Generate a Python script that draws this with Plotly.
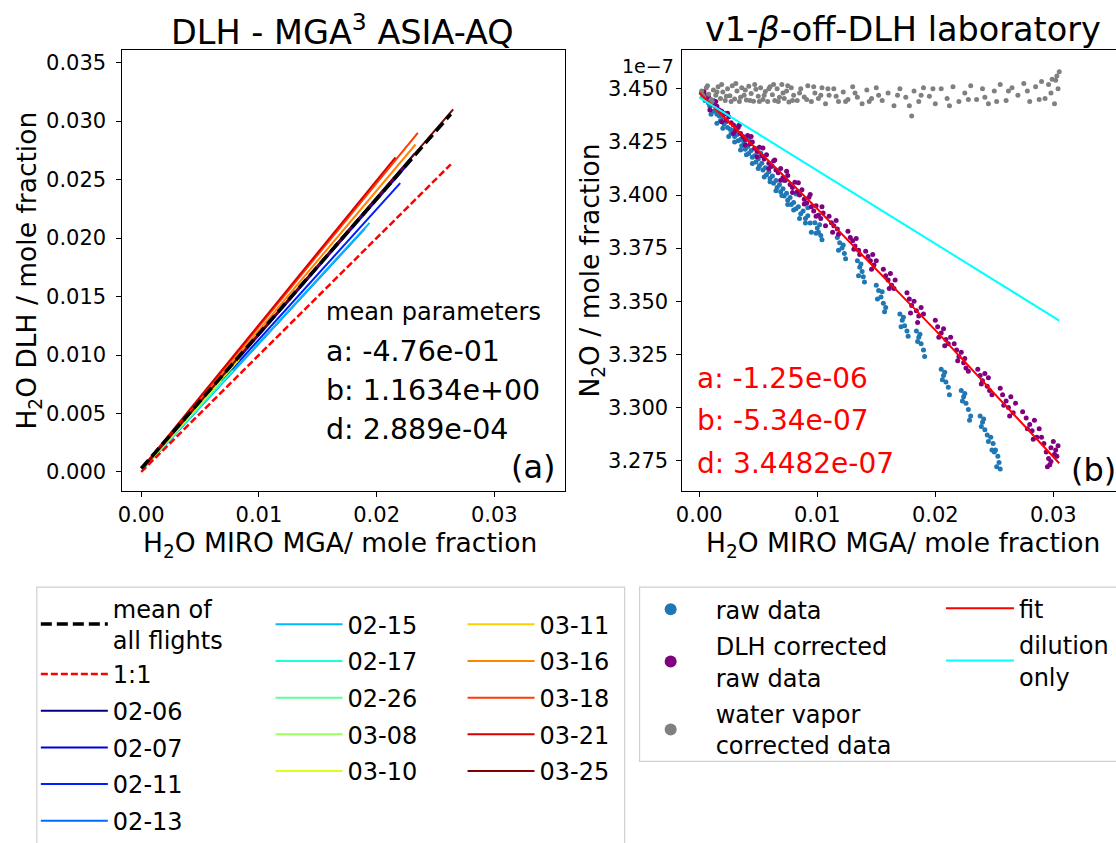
import plotly.graph_objects as go

W, H = 1116, 843
def px(x): return x / W
def py(y): return 1 - y / H

FONT = "DejaVu Sans"

# ---------------- left panel data ----------------
flights = ["02-06", "02-07", "02-11", "02-13", "02-15", "02-17", "02-26",
           "03-08", "03-10", "03-11", "03-16", "03-18", "03-21", "03-25"]
flight_colors = ["#000080", "#0000d9", "#001dff", "#006cff", "#00baff", "#1cffda", "#5cff9b",
                 "#9bff5c", "#daff1c", "#ffce00", "#ff8500", "#ff3c00", "#d90000", "#800000"]
flight_x_start = [0.0002, 0.0002, 0.0002, 0.0002, 0.0002, 0.0002, 0.0002,
                  0.0002, 0.0002, 0.0002, 0.0002, 0.0002, 0.0002, 0.0002]
flight_y_start = [0.0004, 0.0004, 0.0004, 0.0003, 0.0003, 0.0003, 0.0003,
                  0.0003, 0.0004, 0.0004, 0.0004, 0.0004, 0.0005, 0.0004]
flight_x_end = [0.0232, 0.0230, 0.0220, 0.0190, 0.0194, 0.0078, 0.0068,
                0.0062, 0.0083, 0.0086, 0.0233, 0.0235, 0.0216, 0.0265]
flight_y_end = [0.0272, 0.0267, 0.0247, 0.0208, 0.0213, 0.0087, 0.0078,
                0.0072, 0.0096, 0.0101, 0.0280, 0.0290, 0.0269, 0.0310]

mean_x = [0.0000, 0.0130, 0.0263]
mean_y = [0.0003, 0.0153, 0.0306]
one_x = [0.0000, 0.0263]
one_y = [0.0000, 0.0263]

# ---------------- right panel data (N2O in units of 1e-7 mole fraction) ----------------
raw_x = [0.0002, 0.0003, 0.0005, 0.0006, 0.0008, 0.0009, 0.0011, 0.0012, 0.0014, 0.0015,
         0.0017, 0.0018, 0.0020, 0.0021, 0.0023, 0.0024, 0.0026, 0.0027, 0.0029, 0.0030,
         0.0032, 0.0033, 0.0035, 0.0036, 0.0038, 0.0039, 0.0041, 0.0042, 0.0044, 0.0045,
         0.0047, 0.0048, 0.0050, 0.0051, 0.0053, 0.0054, 0.0056, 0.0057, 0.0059, 0.0060,
         0.0062, 0.0063, 0.0065, 0.0066, 0.0068, 0.0069, 0.0071, 0.0072, 0.0074, 0.0075,
         0.0077, 0.0078, 0.0080, 0.0082, 0.0084, 0.0086, 0.0088, 0.0090, 0.0092, 0.0094,
         0.0010, 0.0015, 0.0020, 0.0025, 0.0030, 0.0035, 0.0040, 0.0045, 0.0050, 0.0055,
         0.0060, 0.0065, 0.0070, 0.0075, 0.0080, 0.0085, 0.0090, 0.0095,
         0.0012, 0.0022, 0.0032, 0.0042, 0.0052, 0.0062, 0.0072, 0.0082, 0.0092,
         0.0098, 0.0100, 0.0101, 0.0103, 0.0102, 0.0099, 0.0104,
         0.0117, 0.0119, 0.0121, 0.0123, 0.0122, 0.0118, 0.0124,
         0.0134, 0.0136, 0.0138, 0.0139, 0.0137, 0.0135, 0.0140,
         0.0150, 0.0152, 0.0154, 0.0156, 0.0158, 0.0155, 0.0151, 0.0157,
         0.0170, 0.0172, 0.0174, 0.0176, 0.0173, 0.0171, 0.0177,
         0.0184, 0.0186, 0.0188, 0.0190, 0.0187, 0.0185, 0.0191,
         0.0205, 0.0207, 0.0209, 0.0211, 0.0208, 0.0206, 0.0212,
         0.0222, 0.0224, 0.0226, 0.0228, 0.0230, 0.0225, 0.0223, 0.0229,
         0.0238, 0.0240, 0.0242, 0.0244, 0.0241, 0.0239, 0.0245,
         0.0247, 0.0249, 0.0251, 0.0253, 0.0254, 0.0252, 0.0250, 0.0248, 0.0255]
raw_y = [3.4480, 3.4462, 3.4445, 3.4460, 3.4432, 3.4418, 3.4425, 3.4395, 3.4400, 3.4380,
         3.4372, 3.4350, 3.4365, 3.4335, 3.4345, 3.4318, 3.4310, 3.4290, 3.4305, 3.4275,
         3.4285, 3.4255, 3.4262, 3.4232, 3.4248, 3.4215, 3.4228, 3.4195, 3.4210, 3.4178,
         3.4185, 3.4155, 3.4170, 3.4138, 3.4150, 3.4118, 3.4128, 3.4095, 3.4110, 3.4078,
         3.4090, 3.4055, 3.4068, 3.4035, 3.4048, 3.4015, 3.4030, 3.3995, 3.4008, 3.3975,
         3.3988, 3.3955, 3.3965, 3.3935, 3.3945, 3.3912, 3.3925, 3.3890, 3.3902, 3.3868,
         3.4380, 3.4338, 3.4315, 3.4275, 3.4250, 3.4212, 3.4190, 3.4148, 3.4125, 3.4085,
         3.4062, 3.4020, 3.3998, 3.3955, 3.3930, 3.3890, 3.3868, 3.3825,
         3.4445, 3.4385, 3.4322, 3.4262, 3.4198, 3.4135, 3.4068, 3.4005, 3.3940,
         3.3870, 3.3845, 3.3825, 3.3810, 3.3860, 3.3820, 3.3790,
         3.3800, 3.3775, 3.3750, 3.3725, 3.3765, 3.3740, 3.3700,
         3.3690, 3.3660, 3.3640, 3.3615, 3.3675, 3.3620, 3.3590,
         3.3575, 3.3550, 3.3520, 3.3490, 3.3470, 3.3545, 3.3510, 3.3450,
         3.3440, 3.3410, 3.3385, 3.3360, 3.3425, 3.3380, 3.3335,
         3.3360, 3.3330, 3.3300, 3.3270, 3.3345, 3.3310, 3.3240,
         3.3180, 3.3150, 3.3120, 3.3095, 3.3165, 3.3130, 3.3060,
         3.3080, 3.3050, 3.3020, 3.2990, 3.2960, 3.3065, 3.3030, 3.2940,
         3.2960, 3.2930, 3.2895, 3.2870, 3.2945, 3.2910, 3.2840,
         3.2860, 3.2830, 3.2800, 3.2770, 3.2740, 3.2720, 3.2790, 3.2800, 3.2710]

dlh_x = [0.0003, 0.0005, 0.0006, 0.0008, 0.0010, 0.0012, 0.0013, 0.0015, 0.0017, 0.0019,
         0.0021, 0.0023, 0.0025, 0.0027, 0.0029, 0.0031, 0.0033, 0.0035, 0.0037, 0.0039,
         0.0041, 0.0043, 0.0045, 0.0047, 0.0049, 0.0051, 0.0053, 0.0055, 0.0057, 0.0059,
         0.0061, 0.0063, 0.0065, 0.0067, 0.0069, 0.0071, 0.0073, 0.0075, 0.0077, 0.0079,
         0.0081, 0.0083, 0.0085, 0.0087, 0.0089, 0.0091, 0.0093, 0.0095, 0.0097, 0.0099,
         0.0101, 0.0103, 0.0105,
         0.0004, 0.0014, 0.0024, 0.0034, 0.0044, 0.0054, 0.0064, 0.0074, 0.0084, 0.0094, 0.0104,
         0.0009, 0.0019, 0.0029, 0.0039, 0.0049, 0.0059, 0.0069, 0.0079, 0.0089, 0.0099, 0.0107,
         0.0110, 0.0112, 0.0114, 0.0116, 0.0117, 0.0113, 0.0118,
         0.0126, 0.0128, 0.0130, 0.0132, 0.0133, 0.0135, 0.0131, 0.0136,
         0.0141, 0.0143, 0.0145, 0.0147, 0.0148, 0.0146, 0.0150,
         0.0156, 0.0158, 0.0160, 0.0162, 0.0163, 0.0165, 0.0161, 0.0166,
         0.0176, 0.0178, 0.0180, 0.0182, 0.0184, 0.0186, 0.0188, 0.0179, 0.0185, 0.0190,
         0.0200, 0.0202, 0.0205, 0.0207, 0.0209, 0.0211, 0.0203, 0.0208, 0.0213,
         0.0216, 0.0218, 0.0220, 0.0222, 0.0224, 0.0226, 0.0219, 0.0225, 0.0228,
         0.0236, 0.0238, 0.0240, 0.0242, 0.0244, 0.0246, 0.0239, 0.0245, 0.0248,
         0.0255, 0.0257, 0.0260, 0.0262, 0.0264, 0.0266, 0.0258, 0.0263, 0.0268,
         0.0274, 0.0277, 0.0280, 0.0282, 0.0284, 0.0286, 0.0278, 0.0283, 0.0288,
         0.0290, 0.0292, 0.0294, 0.0296, 0.0298, 0.0300, 0.0302, 0.0295, 0.0298, 0.0303,
         0.0297, 0.0301, 0.0304]
dlh_y = [3.4475, 3.4470, 3.4455, 3.4460, 3.4440, 3.4425, 3.4440, 3.4418, 3.4400, 3.4395,
         3.4380, 3.4352, 3.4368, 3.4340, 3.4330, 3.4305, 3.4318, 3.4290, 3.4275, 3.4262,
         3.4280, 3.4240, 3.4250, 3.4220, 3.4205, 3.4225, 3.4185, 3.4170, 3.4190, 3.4150,
         3.4135, 3.4160, 3.4118, 3.4105, 3.4125, 3.4082, 3.4070, 3.4092, 3.4050, 3.4035,
         3.4060, 3.4015, 3.4000, 3.4025, 3.3980, 3.3962, 3.3990, 3.3945, 3.3925, 3.3950,
         3.3905, 3.3890, 3.3915,
         3.4488, 3.4440, 3.4385, 3.4330, 3.4275, 3.4222, 3.4165, 3.4112, 3.4058, 3.4002, 3.3945,
         3.4400, 3.4345, 3.4290, 3.4235, 3.4180, 3.4125, 3.4070, 3.4012, 3.3958, 3.3900, 3.3855,
         3.3900, 3.3870, 3.3855, 3.3880, 3.3840, 3.3825, 3.3815,
         3.3830, 3.3800, 3.3785, 3.3760, 3.3795, 3.3740, 3.3745, 3.3720,
         3.3735, 3.3710, 3.3690, 3.3720, 3.3670, 3.3650, 3.3690,
         3.3650, 3.3620, 3.3600, 3.3630, 3.3575, 3.3560, 3.3560, 3.3600,
         3.3540, 3.3510, 3.3480, 3.3500, 3.3455, 3.3430, 3.3470, 3.3445, 3.3400, 3.3440,
         3.3410, 3.3380, 3.3350, 3.3370, 3.3320, 3.3300, 3.3330, 3.3290, 3.3330,
         3.3300, 3.3270, 3.3240, 3.3260, 3.3210, 3.3185, 3.3220, 3.3230, 3.3170,
         3.3180, 3.3150, 3.3125, 3.3160, 3.3100, 3.3080, 3.3110, 3.3140, 3.3060,
         3.3090, 3.3060, 3.3030, 3.3000, 3.3050, 3.2975, 3.3010, 3.2960, 3.3020,
         3.2980, 3.2950, 3.2920, 3.2890, 3.2940, 3.2860, 3.2900, 3.2850, 3.2900,
         3.2860, 3.2830, 3.2790, 3.2760, 3.2810, 3.2840, 3.2800, 3.2720, 3.2745, 3.2770,
         3.2730, 3.2780, 3.2820]

wv_x = [0.0002, 0.0004, 0.0006, 0.0008, 0.0010, 0.0012, 0.0014, 0.0016, 0.0018, 0.0020,
        0.0022, 0.0024, 0.0026, 0.0028, 0.0030, 0.0032, 0.0034, 0.0036, 0.0038, 0.0040,
        0.0042, 0.0044, 0.0046, 0.0048, 0.0050, 0.0052, 0.0054, 0.0056, 0.0058, 0.0060,
        0.0062, 0.0064, 0.0066, 0.0068, 0.0070, 0.0072, 0.0074, 0.0076, 0.0078, 0.0080,
        0.0083, 0.0086, 0.0089, 0.0092, 0.0095, 0.0098, 0.0101, 0.0104, 0.0107, 0.0110,
        0.0114, 0.0118, 0.0122, 0.0126, 0.0130, 0.0134, 0.0138, 0.0142, 0.0146, 0.0150,
        0.0155, 0.0160, 0.0165, 0.0170, 0.0175, 0.0180, 0.0182, 0.0186, 0.0190, 0.0195,
        0.0200, 0.0205, 0.0210, 0.0215, 0.0220, 0.0225, 0.0230, 0.0235, 0.0240, 0.0245,
        0.0250, 0.0255, 0.0260, 0.0265, 0.0270, 0.0275, 0.0280, 0.0285, 0.0290, 0.0293,
        0.0296, 0.0299, 0.0301, 0.0303, 0.0305, 0.0304,
        0.0003, 0.0007, 0.0011, 0.0015, 0.0019, 0.0023, 0.0027, 0.0031, 0.0035, 0.0039,
        0.0043, 0.0047, 0.0051, 0.0055, 0.0059, 0.0063, 0.0067, 0.0071, 0.0075, 0.0079,
        0.0085, 0.0091, 0.0097, 0.0103, 0.0109, 0.0116, 0.0124, 0.0132, 0.0144, 0.0152,
        0.0168, 0.0178, 0.0188, 0.0198, 0.0212, 0.0228, 0.0242, 0.0252, 0.0262, 0.0278,
        0.0288, 0.0298, 0.0302]
wv_y = [3.4490, 3.4460, 3.4505, 3.4475, 3.4450, 3.4495, 3.4470, 3.4510, 3.4455, 3.4485,
        3.4445, 3.4500, 3.4468, 3.4515, 3.4452, 3.4490, 3.4440, 3.4505, 3.4470, 3.4448,
        3.4512, 3.4478, 3.4442, 3.4498, 3.4465, 3.4505, 3.4450, 3.4488, 3.4440, 3.4510,
        3.4472, 3.4445, 3.4500, 3.4460, 3.4520, 3.4455, 3.4490, 3.4438, 3.4505, 3.4470,
        3.4445, 3.4500, 3.4462, 3.4515, 3.4440, 3.4480, 3.4455, 3.4505, 3.4430, 3.4470,
        3.4500, 3.4440, 3.4485, 3.4450, 3.4510, 3.4460, 3.4430, 3.4495, 3.4455, 3.4505,
        3.4445, 3.4480, 3.4420, 3.4500, 3.4460, 3.4372, 3.4490, 3.4440, 3.4505, 3.4465,
        3.4430, 3.4500, 3.4455, 3.4510, 3.4440, 3.4480, 3.4515, 3.4450, 3.4500, 3.4430,
        3.4490, 3.4520, 3.4445, 3.4505, 3.4470, 3.4525, 3.4440, 3.4510, 3.4535, 3.4455,
        3.4520, 3.4545, 3.4430, 3.4560, 3.4580, 3.4500,
        3.4470, 3.4515, 3.4440, 3.4485, 3.4520, 3.4465, 3.4440, 3.4525, 3.4460, 3.4495,
        3.4445, 3.4520, 3.4440, 3.4470, 3.4500, 3.4520, 3.4440, 3.4480, 3.4515, 3.4445,
        3.4480, 3.4450, 3.4510, 3.4470, 3.4500, 3.4465, 3.4440, 3.4480, 3.4440, 3.4470,
        3.4470, 3.4420, 3.4470, 3.4500, 3.4420, 3.4450, 3.4460, 3.4440, 3.4490, 3.4490,
        3.4450, 3.4480, 3.4540]

fit_x = [0.0000, 0.0100, 0.0200, 0.0305]
fit_y = [3.4482, 3.3935, 3.3364, 3.2737]
dil_x = [0.0000, 0.0305]
dil_y = [3.4460, 3.3409]

left_ann = ["a: -4.76e-01", "b: 1.1634e+00", "d: 2.889e-04"]
right_ann = ["a: -1.25e-06", "b: -5.34e-07", "d: 3.4482e-07"]

fig = go.Figure()

# flights (left)
for i, name in enumerate(flights):
    leg = "legend6" if i < 4 else ("legend2" if i < 9 else "legend3")
    fig.add_trace(go.Scatter(
        x=[flight_x_start[i], flight_x_end[i]], y=[flight_y_start[i], flight_y_end[i]],
        mode="lines", line=dict(color=flight_colors[i], width=2),
        name=name, legend=leg, legendgroup=name, legendrank=10 + i,
        xaxis="x", yaxis="y"))
fig.add_trace(go.Scatter(x=one_x, y=one_y, mode="lines",
                         line=dict(color="#ff0000", width=2.5, dash="7px,3px"),
                         name="1:1", legend="legend6", legendgroup="one", legendrank=2,
                         xaxis="x", yaxis="y"))
fig.add_trace(go.Scatter(x=mean_x, y=mean_y, mode="lines",
                         line=dict(color="#000000", width=3.5, dash="11px,5px"),
                         name="mean of<br>all flights", legend="legend", legendgroup="mean",
                         legendrank=1, xaxis="x", yaxis="y"))

# right panel
fig.add_trace(go.Scatter(x=raw_x, y=raw_y, mode="markers",
                         marker=dict(color="#1f77b4", size=5), name="raw data",
                         legend="legend4", legendgroup="raw", xaxis="x2", yaxis="y2"))
fig.add_trace(go.Scatter(x=dlh_x, y=dlh_y, mode="markers",
                         marker=dict(color="#800080", size=5), name="DLH corrected<br>raw data",
                         legend="legend4", legendgroup="dlh", xaxis="x2", yaxis="y2"))
fig.add_trace(go.Scatter(x=wv_x, y=wv_y, mode="markers",
                         marker=dict(color="#808080", size=5),
                         name="water vapor<br>corrected data",
                         legend="legend4", legendgroup="wv", xaxis="x2", yaxis="y2"))
fig.add_trace(go.Scatter(x=fit_x, y=fit_y, mode="lines", line=dict(color="#ff0000", width=2),
                         name="fit", legend="legend5", legendgroup="fit",
                         xaxis="x2", yaxis="y2"))
fig.add_trace(go.Scatter(x=dil_x, y=dil_y, mode="lines", line=dict(color="#00ffff", width=2),
                         name="dilution<br>only", legend="legend5", legendgroup="dil",
                         xaxis="x2", yaxis="y2"))

tick_font = dict(family=FONT, size=21, color="black")
axis_common = dict(showgrid=False, zeroline=False, showline=True, linecolor="black",
                   linewidth=1, ticks="outside", ticklen=5, tickwidth=1, tickcolor="black",
                   tickfont=tick_font)

leg_common = dict(font=dict(family=FONT, size=24, color="black"), bgcolor="rgba(0,0,0,0)",
                  borderwidth=0, xanchor="left", yanchor="top", orientation="v",
                  traceorder="grouped", tracegroupgap=2.5)

fig.update_layout(
    width=W, height=H, margin=dict(l=0, r=0, t=0, b=0),
    paper_bgcolor="white", plot_bgcolor="white",
    font=dict(family=FONT, color="black"),
    showlegend=True,
    xaxis=dict(domain=[px(117), px(562)], range=[-0.0016, 0.0360], dtick=0.01, tick0=0,
               tickformat=".2f", mirror=True, anchor="y", **axis_common),
    yaxis=dict(domain=[py(493), py(50)], range=[-0.0016, 0.0361], dtick=0.005, tick0=0,
               tickformat=".3f", mirror=True, anchor="x", ticklabelstandoff=6, **axis_common),
    xaxis2=dict(domain=[px(680), 1.0], range=[-0.00143, 0.03531], dtick=0.01, tick0=0,
                tickformat=".2f", mirror=True, anchor="y2", **axis_common),
    yaxis2=dict(domain=[py(493), py(50)], range=[3.2608, 3.4684], dtick=0.025, tick0=3.275,
                tickformat=".3f", mirror=False, anchor="x2", ticklabelstandoff=4, **axis_common),
    legend=dict(x=px(30), y=py(589), itemwidth=67, **leg_common),
    legend6=dict(x=px(30), y=py(655), itemwidth=67, **leg_common),
    legend2=dict(x=px(266), y=py(605), itemwidth=67, **leg_common),
    legend3=dict(x=px(459), y=py(605), itemwidth=67, **leg_common),
    legend4=dict(x=px(623), y=py(590), itemwidth=80, itemsizing="constant", **leg_common),
    legend5=dict(x=px(940), y=py(589), itemwidth=68, **leg_common),
)

# legend frames
fig.add_shape(type="rect", xref="paper", yref="paper", x0=px(31), x1=px(622),
              y0=py(880), y1=py(590), line=dict(color="#d0d0d0", width=1.2),
              fillcolor="rgba(255,255,255,0)", layer="below")
fig.add_shape(type="rect", xref="paper", yref="paper", x0=px(637), x1=px(1140),
              y0=py(765), y1=py(590), line=dict(color="#d0d0d0", width=1.2),
              fillcolor="rgba(255,255,255,0)", layer="below")

def ann(text, x, y, size, color="black", xanchor="center", yanchor="middle", angle=0):
    fig.add_annotation(text=text, x=px(x), y=py(y), xref="paper", yref="paper",
                       showarrow=False, xanchor=xanchor, yanchor=yanchor, textangle=angle,
                       borderpad=0, font=dict(family=FONT, size=size, color=color))

# titles
ann("DLH - MGA<sup>3</sup> ASIA-AQ", 338, 30, 33.5)
ann("v1-<i>β</i>-off-DLH laboratory", 902, 30, 33.5)
# axis titles
ann("H<sub>2</sub>O MIRO MGA/ mole fraction", 336, 547, 26.5)
ann("H<sub>2</sub>O MIRO MGA/ mole fraction", 902, 547, 26.5)
ann("H<sub>2</sub>O DLH / mole fraction", 23, 272, 26.5, angle=-90)
ann("N<sub>2</sub>O / mole fraction", 589, 272, 26.5, angle=-90)
# offset text
ann("1e−7", 618, 66, 19, xanchor="left")
# left parameter text
ann("mean parameters", 321, 313, 24, xanchor="left")
for k, t in enumerate(left_ann):
    ann(t, 321, 353 + 39.5 * k, 28.5, xanchor="left")
ann("(a)", 554, 469, 32, xanchor="right")
# right parameter text
for k, t in enumerate(right_ann):
    ann(t, 694, 380 + 43 * k, 28, color="#ff0000", xanchor="left")
ann("(b)", 1070, 472, 32, xanchor="left")

fig.write_html("out.html")
